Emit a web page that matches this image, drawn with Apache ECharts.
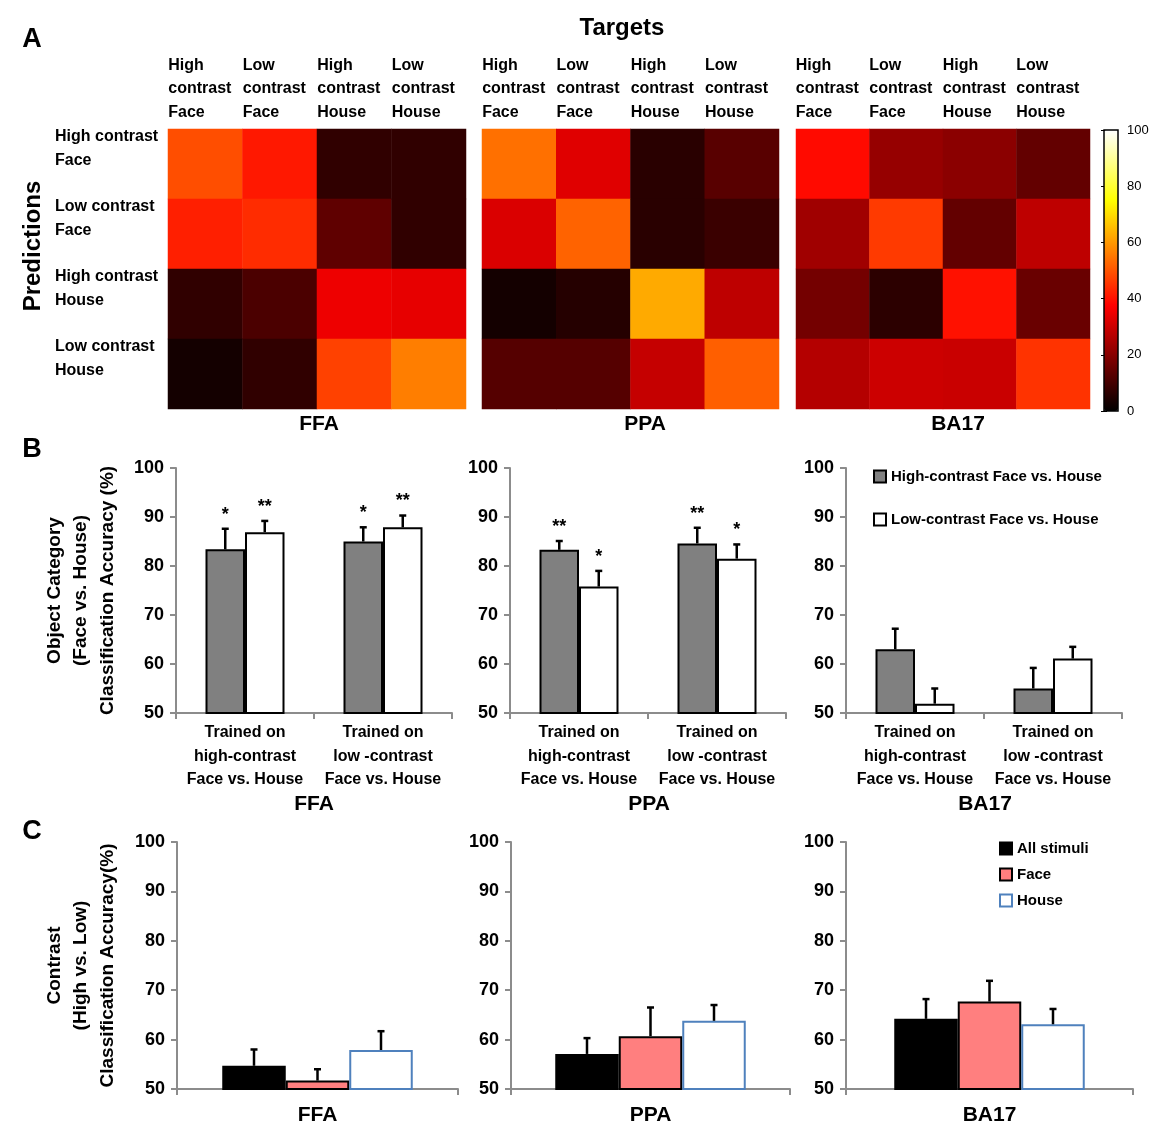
<!DOCTYPE html>
<html>
<head>
<meta charset="utf-8">
<script src="https://cdn.jsdelivr.net/npm/echarts@6/dist/echarts.min.js"></script>
<style>
  html, body { margin: 0; padding: 0; background: #fff; }
  #chart { width: 1175px; height: 1146px; }
</style>
</head>
<body>
<div id="chart"></div>
<script>
const FONT = '"Liberation Sans", Arial, Helvetica, sans-serif';

// ---- panel A: confusion matrices, rows = predictions, cols = targets (%)
const targets = ['High\ncontrast\nFace', 'Low\ncontrast\nFace', 'High\ncontrast\nHouse', 'Low\ncontrast\nHouse'];
const predictions = ['High contrast\nFace', 'Low contrast\nFace', 'High contrast\nHouse', 'Low contrast\nHouse'];
const regions = ['FFA', 'PPA', 'BA17'];

const ffaMatrix = [
  [49, 41, 7, 7],
  [42, 44, 14, 7],
  [7, 11, 35, 34],
  [3, 7, 47, 56]
];
const ppaMatrix = [
  [54, 33, 6, 13],
  [32, 52, 6, 8.5],
  [3, 5.5, 62.5, 28],
  [12.5, 12.5, 29, 51.5]
];
const ba17Matrix = [
  [39, 22, 20.5, 14.5],
  [23.5, 46, 14.5, 28],
  [17, 6.5, 40, 15.5],
  [26.5, 30, 29.5, 45]
];

// ---- panel B: face vs house decoding accuracy (%)
const trainedOn = ['Trained on\nhigh-contrast\nFace vs. House', 'Trained on\nlow -contrast\nFace vs. House'];
const highName = 'High-contrast Face vs. House';
const lowName = 'Low-contrast Face vs. House';

const ffaHigh = [83.4, 85.0], ffaHighErr = [4.2, 2.9], ffaHighSig = ['*', '*'];
const ffaLow = [86.9, 87.9], ffaLowErr = [2.3, 2.4], ffaLowSig = ['**', '**'];
const ppaHigh = [83.3, 84.6], ppaHighErr = [1.8, 3.2], ppaHighSig = ['**', '**'];
const ppaLow = [75.8, 81.5], ppaLowErr = [3.2, 2.9], ppaLowSig = ['*', '*'];
const ba17High = [63.0, 55.0], ba17HighErr = [4.2, 4.2], ba17HighSig = ['', ''];
const ba17Low = [51.9, 61.1], ba17LowErr = [3.1, 2.4], ba17LowSig = ['', ''];

// ---- panel C: high vs low contrast decoding accuracy (%)
const stimulusSets = ['All stimuli', 'Face', 'House'];
const ffaContrast = [54.7, 51.7, 57.9], ffaContrastErr = [3.3, 2.3, 3.8];
const ppaContrast = [57.1, 60.7, 63.8], ppaContrastErr = [3.2, 5.8, 3.2];
const ba17Contrast = [64.2, 67.7, 63.1], ba17ContrastErr = [4.0, 4.2, 3.1];

const accTicks = { min: 50, max: 100, interval: 10 };

// MATLAB "hot"
const hot = ['#000000', '#550000', '#aa0000', '#ff0000', '#ff5500', '#ffaa00', '#ffff00', '#ffff80', '#ffffff'];

const AXIS_GRAY = '#8c8c8c';
const grid = [], xAxis = [], yAxis = [], series = [];

function toCells(m) {
  return m.flatMap((row, r) => row.map((v, c) => [c, r, v]));
}

const boldText = { fontSize: 16, fontWeight: 'bold', fontFamily: FONT, color: '#000' };

// ---------- A
const heatBoxes = [[168, 298], [482, 297], [796, 294]];
[ffaMatrix, ppaMatrix, ba17Matrix].forEach((m, i) => {
  const [left, width] = heatBoxes[i];
  grid.push({ left: left, top: 129, width: width, height: 280 });
  xAxis.push({
    type: 'category', gridIndex: i, data: targets, position: 'top',
    axisLine: { show: false }, axisTick: { show: false },
    axisLabel: {
      interval: 0, margin: 5,
      formatter: v => v.split('\n').map(s => '{t|' + s + '}').join('\n'),
      rich: { t: Object.assign({ width: 74, align: 'left', lineHeight: 23.5 }, boldText) }
    }
  });
  yAxis.push({
    type: 'category', gridIndex: i, data: predictions, inverse: true,
    axisLine: { show: false }, axisTick: { show: false },
    axisLabel: {
      show: i === 0, interval: 0, align: 'left', margin: 113,
      formatter: v => v.split('\n').map(s => '{r|' + s + '}').join('\n') + '\n{s| }',
      rich: {
        r: Object.assign({ align: 'left', lineHeight: 24 }, boldText),
        s: { lineHeight: 30, fontSize: 10 }
      }
    }
  });
  series.push({
    type: 'heatmap', xAxisIndex: i, yAxisIndex: i, data: toCells(m),
    itemStyle: { borderWidth: 0 }, emphasis: { disabled: true }
  });
});

// colour bar axis (grid 3)
grid.push({ left: 1104, top: 130, width: 14, height: 281, show: true, borderColor: '#000', borderWidth: 1.5, backgroundColor: 'transparent', z: 10 });
xAxis.push({ type: 'value', gridIndex: 3, show: false });
yAxis.push({
  type: 'value', gridIndex: 3, min: 0, max: 100, interval: 20, position: 'right',
  axisLine: { show: false }, splitLine: { show: false },
  axisTick: { show: true, inside: true, length: 3, lineStyle: { color: '#000', width: 1 } },
  axisLabel: { margin: 9, fontSize: 13, fontFamily: FONT, color: '#000' }
});

// ---------- error bars
function errorSeries(gi, values, errs, sigs, dx) {
  return {
    type: 'custom', xAxisIndex: gi, yAxisIndex: gi, z: 5, silent: true,
    data: values.map((v, i) => [i, v, errs[i]]),
    encode: { x: 0, y: 1 },
    renderItem: (params, api) => {
      const base = api.coord([api.value(0), api.value(1)]);
      const top = api.coord([api.value(0), api.value(1) + api.value(2)]);
      const x = base[0] + dx;
      const st = { stroke: '#000', lineWidth: 2.5 };
      const children = [
        { type: 'line', shape: { x1: x, y1: base[1], x2: x, y2: top[1] }, style: st },
        { type: 'line', shape: { x1: x - 3.5, y1: top[1], x2: x + 3.5, y2: top[1] }, style: st }
      ];
      const sig = sigs ? sigs[params.dataIndex] : '';
      if (sig) {
        children.push({
          type: 'text',
          style: { text: sig, x: x, y: top[1] - 5, align: 'center', verticalAlign: 'bottom', font: 'bold 18px ' + FONT, fill: '#000' }
        });
      }
      return { type: 'group', children: children };
    }
  };
}

// ---------- B
const bBoxes = [[176, 276], [510, 276], [846, 276]];
const bData = [
  [ffaHigh, ffaHighErr, ffaHighSig, ffaLow, ffaLowErr, ffaLowSig],
  [ppaHigh, ppaHighErr, ppaHighSig, ppaLow, ppaLowErr, ppaLowSig],
  [ba17High, ba17HighErr, ba17HighSig, ba17Low, ba17LowErr, ba17LowSig]
];
const BW = 39.5;
bData.forEach((d, i) => {
  const gi = 4 + i;
  const [left, width] = bBoxes[i];
  grid.push({ left: left, top: 468, width: width, height: 245 });
  xAxis.push({
    type: 'category', gridIndex: gi, data: trainedOn,
    axisLine: { lineStyle: { color: AXIS_GRAY, width: 2 } },
    axisTick: { show: true, length: 6, lineStyle: { color: AXIS_GRAY, width: 2 } },
    axisLabel: Object.assign({ interval: 0, margin: 8, lineHeight: 23.5 }, boldText)
  });
  yAxis.push({
    type: 'value', gridIndex: gi, min: accTicks.min, max: accTicks.max, interval: accTicks.interval,
    axisLine: { show: true, lineStyle: { color: AXIS_GRAY, width: 2 } },
    axisTick: { show: true, length: 6, lineStyle: { color: AXIS_GRAY, width: 2 } },
    splitLine: { show: false },
    axisLabel: Object.assign({}, boldText, { margin: 12, fontSize: 18 }),
    name: i === 0 ? 'Object Category\n(Face vs. House)\nClassification Accuracy (%)' : '',
    nameLocation: 'middle', nameRotate: 90, nameGap: 55,
    nameTextStyle: Object.assign({}, boldText, { fontSize: 19, lineHeight: 26.5 })
  });
  series.push({
    type: 'bar', name: highName, xAxisIndex: gi, yAxisIndex: gi, data: d[0],
    barWidth: BW, barGap: '0%',
    itemStyle: { color: '#808080', borderColor: '#000', borderWidth: 2 }
  });
  series.push({
    type: 'bar', name: lowName, xAxisIndex: gi, yAxisIndex: gi, data: d[3],
    barWidth: BW, barGap: '0%',
    itemStyle: { color: '#ffffff', borderColor: '#000', borderWidth: 2 }
  });
  series.push(errorSeries(gi, d[0], d[1], d[2], -BW / 2));
  series.push(errorSeries(gi, d[3], d[4], d[5], BW / 2));
});

// ---------- C
const cBoxes = [[177, 281], [511, 279], [846, 287]];
const cData = [[ffaContrast, ffaContrastErr], [ppaContrast, ppaContrastErr], [ba17Contrast, ba17ContrastErr]];
const cStyles = [
  { color: '#000000', borderColor: '#000', borderWidth: 2 },
  { color: '#ff7f7f', borderColor: '#000', borderWidth: 2 },
  { color: '#ffffff', borderColor: '#4f81bd', borderWidth: 2 }
];
const CW = 63.5;
cData.forEach((d, i) => {
  const gi = 7 + i;
  const [left, width] = cBoxes[i];
  grid.push({ left: left, top: 842, width: width, height: 247 });
  xAxis.push({
    type: 'category', gridIndex: gi, data: [regions[i]],
    axisLine: { lineStyle: { color: AXIS_GRAY, width: 2 } },
    axisTick: { show: true, length: 6, lineStyle: { color: AXIS_GRAY, width: 2 } },
    axisLabel: Object.assign({}, boldText, { interval: 0, margin: 16, fontSize: 21 })
  });
  yAxis.push({
    type: 'value', gridIndex: gi, min: accTicks.min, max: accTicks.max, interval: accTicks.interval,
    axisLine: { show: true, lineStyle: { color: AXIS_GRAY, width: 2 } },
    axisTick: { show: true, length: 6, lineStyle: { color: AXIS_GRAY, width: 2 } },
    splitLine: { show: false },
    axisLabel: Object.assign({}, boldText, { margin: 12, fontSize: 18 }),
    name: i === 0 ? 'Contrast\n(High vs. Low)\nClassification Accuracy(%)' : '',
    nameLocation: 'middle', nameRotate: 90, nameGap: 56,
    nameTextStyle: Object.assign({}, boldText, { fontSize: 19, lineHeight: 26.5 })
  });
  stimulusSets.forEach((name, k) => {
    series.push({
      type: 'bar', name: name, xAxisIndex: gi, yAxisIndex: gi, data: [d[0][k]],
      barWidth: CW, barGap: '0%', itemStyle: cStyles[k]
    });
  });
  stimulusSets.forEach((name, k) => {
    series.push(errorSeries(gi, [d[0][k]], [d[1][k]], null, (k - 1) * CW));
  });
});

// inner ticks on the left edge of the colour bar (appended so indices above stay put)
yAxis.push({
  type: 'value', gridIndex: 3, min: 0, max: 100, interval: 20, position: 'left',
  axisLine: { show: false }, splitLine: { show: false }, axisLabel: { show: false },
  axisTick: { show: true, inside: true, length: 3, lineStyle: { color: '#000', width: 1 } }
});

function label(text, x, y, size, extra) {
  return Object.assign({
    type: 'text', x: x, y: y, silent: true,
    style: { text: text, align: 'center', verticalAlign: 'middle', font: 'bold ' + size + 'px ' + FONT, fill: '#000' }
  }, extra || {});
}

const legendText = { fontSize: 15, fontWeight: 'bold', fontFamily: FONT, color: '#000' };

const option = {
  animation: false,
  backgroundColor: '#fff',
  grid: grid, xAxis: xAxis, yAxis: yAxis, series: series,
  visualMap: {
    type: 'continuous', min: 0, max: 100, seriesIndex: [0, 1, 2],
    calculable: false, left: 1104, top: 130, itemWidth: 14, itemHeight: 281,
    padding: 0, text: null, inRange: { color: hot }
  },
  legend: [
    {
      data: [highName, lowName], orient: 'vertical', left: 873, top: 469,
      itemWidth: 12, itemHeight: 12, itemGap: 28, icon: 'rect', selectedMode: false, padding: 0,
      itemStyle: { borderWidth: 2 }, textStyle: legendText
    },
    {
      data: stimulusSets, orient: 'vertical', left: 999, top: 841,
      itemWidth: 12, itemHeight: 12, itemGap: 11, icon: 'rect', selectedMode: false, padding: 0,
      itemStyle: { borderWidth: 2 }, textStyle: legendText
    }
  ],
  graphic: [
    label('A', 32, 40, 27),
    label('B', 32, 450, 27),
    label('C', 32, 832, 27),
    label('Targets', 622, 28, 24),
    label('Predictions', 33, 246, 24, { rotation: Math.PI / 2 }),
    label(regions[0], 319, 424, 21),
    label(regions[1], 645, 424, 21),
    label(regions[2], 958, 424, 21),
    label(regions[0], 314, 804, 21),
    label(regions[1], 649, 804, 21),
    label(regions[2], 985, 804, 21)
  ]
};

const chart = echarts.init(document.getElementById('chart'));
chart.setOption(option);
window.addEventListener('resize', () => chart.resize());
</script>
</body>
</html>
